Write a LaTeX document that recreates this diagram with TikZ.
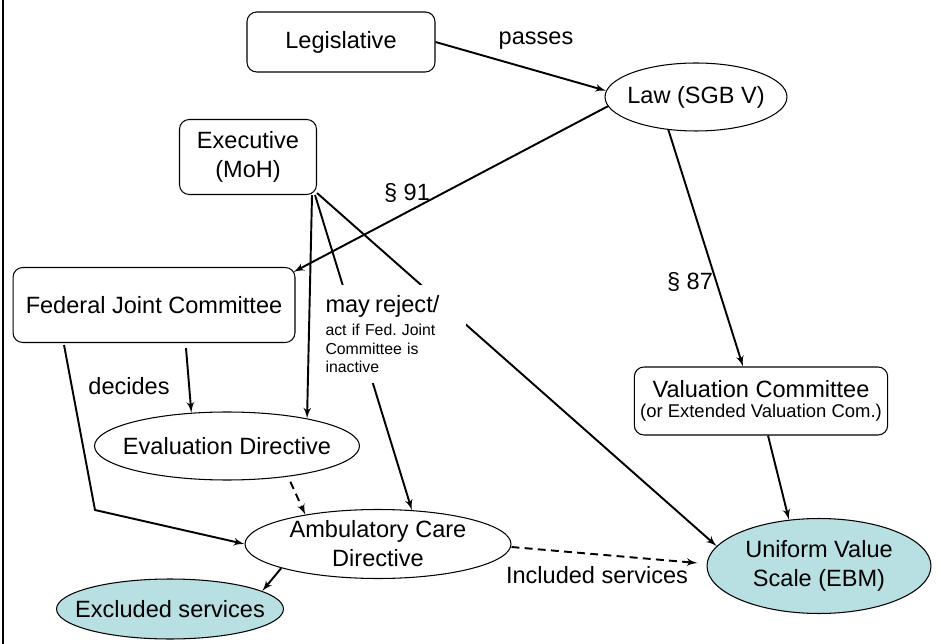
\documentclass[tikz,border=0pt]{standalone}
\usepackage{fontspec}
\setmainfont{Liberation Sans}
\usepackage{tikz}
\usetikzlibrary{shapes,arrows}
\frenchspacing
\definecolor{scalefill}{RGB}{184,223,226}
\newcommand{\bigsize}{\fontsize{13.4}{16.5}\selectfont}
\newcommand{\smallsize}{\fontsize{9}{10.5}\selectfont}
\tikzstyle{block} = [rectangle, draw, line width=0.6pt, align=center, rounded corners=5.5pt, font=\bigsize]
\tikzstyle{oval} = [ellipse, draw, line width=0.6pt, align=center, inner sep=-1cm, font=\bigsize]
\tikzstyle{result} = [oval, fill=scalefill]
\tikzstyle{tag} = [font=\bigsize]
\tikzstyle{line} = [draw, line width=1.1pt, -latex']
\tikzstyle{dashline} = [line, dash pattern=on 4.5pt off 3pt]

\begin{document}
\begin{tikzpicture}[auto, x=0.02cm, y=-0.02cm]
\useasboundingbox (0, 0) rectangle (952, 644);
\draw [line width=1.4pt] (3, 0) -- (3, 644);

% state
\node [block, minimum width=3.76cm, minimum height=1.2cm] at (341, 42) (leg) {Legislative};
\node [oval, minimum width=3.64cm, minimum height=1.36cm] at (696, 97) (law) {Law (SGB V)};
\node [block, minimum width=2.74cm, minimum height=1.5cm] at (248, 157) (exec) {Executive\\(MoH)};
\node [tag] at (536, 41) (passes) {passes};
\path [line] (leg.east) to (law.176);

% directives
\node [block, minimum width=5.64cm, minimum height=1.5cm] at (154, 305) (fjc) {Federal Joint Committee};
\node [oval, minimum width=5.3cm, minimum height=1.36cm] at (227, 446) (eval) {Evaluation Directive};
\node [oval, minimum width=5.32cm, minimum height=1.38cm] at (378, 544) (amb) {Ambulatory Care\\Directive};
\node [result, minimum width=4.54cm, minimum height=1.2cm] at (170, 609) (excl) {Excluded services};
\node [tag] at (407, 193) (p91) {§ 91};
\node [tag] at (129, 386) (decides) {decides};
\coordinate (turn) at (95, 510);

\path [line] (law.186) to ([xshift=-0.04cm, yshift=-0.1cm]fjc.north east);
\path [line] ([xshift=0.64cm, yshift=-0.1cm]fjc.south) to (eval.137);
\path [line] ([xshift=-1.8cm, yshift=-0.04cm]fjc.south) -- (turn) -- (amb.west);
\path [dashline] ([xshift=0.06cm, yshift=-0.1cm]eval.-27) to (amb.158);
\path [line] (amb.194) to (excl.11);

% valuation
\node [block, minimum width=5.06cm, minimum height=1.36cm, font=\fontsize{10.5}{11.5}\selectfont] at (761, 401) (val) {{\bigsize Valuation Committee}\\(or Extended Valuation Com.)};
\node [result, minimum width=4.48cm, minimum height=1.9cm] at (819, 566) (uvs) {Uniform Value\\Scale (EBM)};
\node [tag] at (690, 282) (p87) {§ 87};
\node [tag] at (597, 575) (incl) {Included services};

\path [line] (law.230) to ([xshift=-0.36cm]val.north);
\path [line] ([xshift=0.14cm]val.south) to (uvs.123);
\path [dashline] ([yshift=-0.06cm]amb.east) to ([xshift=-0.18cm, yshift=0.06cm]uvs.west);

% executive
\path [line] ([xshift=-0.1cm]exec.south east) to (eval.19);
\path [line] ([xshift=-0.04cm]exec.south east) to (amb.45);
\path [line] ([yshift=0.04cm]exec.south east) to (uvs.169);
\node [fill=white, text width=2.7cm, minimum height=1.96cm, inner xsep=0.12cm, align=left, font=\smallsize] at (393, 334) (reject) {{\bigsize may reject/}\\[3pt]act if Fed. Joint\\Committee is\\inactive};

\end{tikzpicture}
\end{document}
